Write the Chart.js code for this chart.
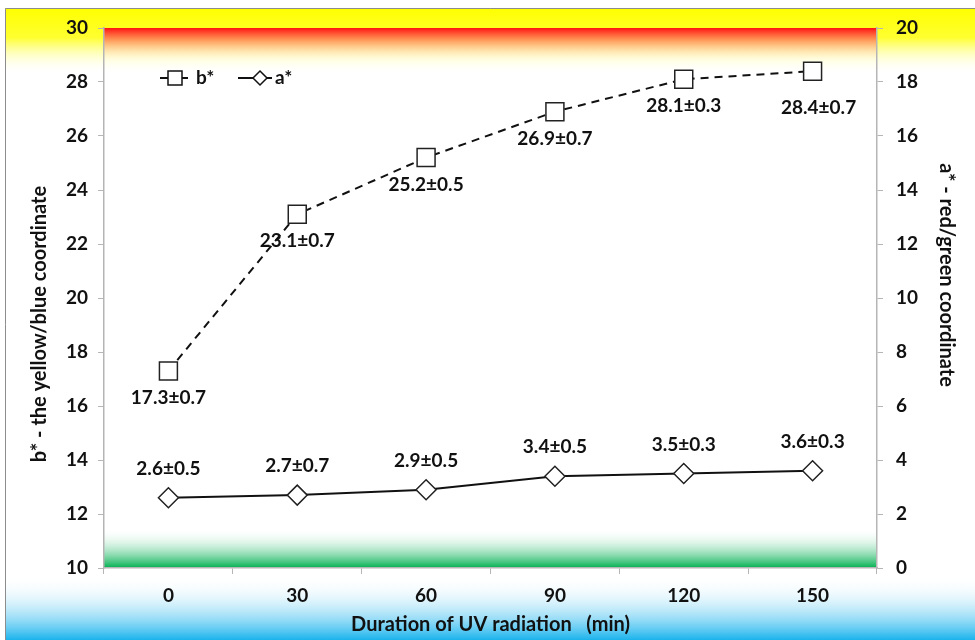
<!DOCTYPE html>
<html>
<head>
<meta charset="utf-8">
<script src="https://cdn.jsdelivr.net/npm/chart.js@4.4.1/dist/chart.umd.min.js"></script>
<style>
  html, body { margin: 0; padding: 0; background: #fff; }
  #wrap { width: 975px; height: 640px; }
</style>
</head>
<body>
<div id="wrap"><canvas id="uvchart"></canvas></div>
<script>
const durations = ["0", "30", "60", "90", "120", "150"];
const bValues = [17.3, 23.1, 25.2, 26.9, 28.1, 28.4];
const bErrors = [0.7, 0.7, 0.5, 0.7, 0.3, 0.7];
const aValues = [2.6, 2.7, 2.9, 3.4, 3.5, 3.6];
const aErrors = [0.5, 0.7, 0.5, 0.5, 0.3, 0.3];

const FONT = "Lato";
const axisGray = "#b5b5b5";
const leftTitle = "b* - the yellow/blue coordinate";
const rightTitle = "a* - red/green coordinate";

// yellow/blue page background + red/green bands in the plot
const backdrop = {
  id: "backdrop",
  beforeDraw(chart) {
    const ctx = chart.ctx;
    const W = chart.width, H = chart.height;
    const ca = chart.chartArea;
    ctx.save();
    ctx.fillStyle = "#fff";
    ctx.fillRect(0, 0, W, H);

    let g = ctx.createLinearGradient(0, 8, 0, 74);
    g.addColorStop(0, "#ffff00");
    g.addColorStop(0.45, "#ffff30");
    g.addColorStop(1, "rgba(255,255,255,0)");
    ctx.fillStyle = g;
    ctx.fillRect(5, 8, W - 5, 66);

    g = ctx.createLinearGradient(0, 576, 0, H);
    g.addColorStop(0, "rgba(255,255,255,0)");
    g.addColorStop(1, "#1ab3ec");
    ctx.fillStyle = g;
    ctx.fillRect(5, 576, W - 5, H - 576);

    ctx.strokeStyle = "#8c8c8c";
    ctx.lineWidth = 1;
    ctx.beginPath();
    ctx.moveTo(5.5, H);
    ctx.lineTo(5.5, 8.5);
    ctx.lineTo(W, 8.5);
    ctx.stroke();

    g = ctx.createLinearGradient(0, ca.top, 0, ca.top + 35);
    g.addColorStop(0, "#ff1010");
    g.addColorStop(1, "rgba(255,255,255,0)");
    ctx.fillStyle = g;
    ctx.fillRect(ca.left, ca.top, ca.right - ca.left, 35);

    g = ctx.createLinearGradient(0, ca.bottom - 40, 0, ca.bottom);
    g.addColorStop(0, "rgba(255,255,255,0)");
    g.addColorStop(1, "#00b050");
    ctx.fillStyle = g;
    ctx.fillRect(ca.left, ca.bottom - 40, ca.right - ca.left, 40);

    // vertical axis titles (off-centre, as in the original)
    ctx.fillStyle = "#111";
    ctx.font = "bold 20px " + FONT;
    ctx.textAlign = "center";
    ctx.textBaseline = "middle";
    ctx.translate(40, 324);
    ctx.rotate(-Math.PI / 2);
    ctx.fillText(leftTitle, 0, 0);
    ctx.setTransform(1, 0, 0, 1, 0, 0);
    ctx.translate(946, 275);
    ctx.rotate(Math.PI / 2);
    ctx.fillText(rightTitle, 0, 0);
    ctx.restore();
  }
};

// value±error labels and the in-plot legend
const annotate = {
  id: "annotate",
  afterDatasetsDraw(chart) {
    const ctx = chart.ctx;
    ctx.save();
    ctx.font = "bold 19px " + FONT;
    ctx.fillStyle = "#111";
    ctx.textAlign = "center";
    ctx.textBaseline = "middle";
    const bPts = chart.getDatasetMeta(0).data;
    bPts.forEach((p, i) => {
      const last = i === bPts.length - 1;
      ctx.fillText(bValues[i].toFixed(1) + "±" + bErrors[i].toFixed(1),
        p.x + (last ? 6 : 0), p.y + (last ? 37 : 27));
    });
    chart.getDatasetMeta(1).data.forEach((p, i) => {
      ctx.fillText(aValues[i].toFixed(1) + "±" + aErrors[i].toFixed(1), p.x, p.y - 29);
    });

    // legend
    const y = 78;
    ctx.strokeStyle = "#111";
    ctx.lineWidth = 2;
    ctx.beginPath();
    ctx.moveTo(160, y); ctx.lineTo(168, y);
    ctx.moveTo(182, y); ctx.lineTo(188, y);
    ctx.moveTo(238, y); ctx.lineTo(254, y);
    ctx.moveTo(266, y); ctx.lineTo(272, y);
    ctx.stroke();
    ctx.lineWidth = 1.5;
    ctx.fillStyle = "#fff";
    ctx.fillRect(168, y - 7, 14, 14);
    ctx.strokeRect(168, y - 7, 14, 14);
    ctx.beginPath();
    ctx.moveTo(260, y - 7); ctx.lineTo(267, y); ctx.lineTo(260, y + 7); ctx.lineTo(253, y); ctx.closePath();
    ctx.fill(); ctx.stroke();
    ctx.fillStyle = "#111";
    ctx.font = "bold 19px " + FONT;
    ctx.textAlign = "left";
    ctx.fillText("b*", 196, y);
    ctx.fillText("a*", 275, y);
    ctx.restore();
  }
};

new Chart(document.getElementById("uvchart").getContext("2d"), {
  type: "line",
  data: {
    labels: durations,
    datasets: [
      {
        label: "b*",
        data: bValues,
        yAxisID: "y",
        borderColor: "#111",
        borderWidth: 2,
        borderDash: [8, 6],
        pointStyle: "rect",
        pointRadius: 12.7,
        pointHoverRadius: 12.7,
        pointBackgroundColor: "#fff",
        pointBorderColor: "#222",
        pointBorderWidth: 1.5,
        tension: 0
      },
      {
        label: "a*",
        data: aValues,
        yAxisID: "y1",
        borderColor: "#111",
        borderWidth: 2,
        pointStyle: "rectRot",
        pointRadius: 10,
        pointHoverRadius: 10,
        pointBackgroundColor: "#fff",
        pointBorderColor: "#222",
        pointBorderWidth: 1.5,
        tension: 0
      }
    ]
  },
  options: {
    responsive: true,
    maintainAspectRatio: false,
    animation: false,
    events: [],
    layout: { padding: { top: 28, left: 0, right: 0, bottom: 0 } },
    plugins: { legend: { display: false }, tooltip: { enabled: false } },
    scales: {
      x: {
        offset: true,
        grid: { offset: true, drawOnChartArea: false, color: axisGray, tickLength: 6 },
        border: { color: axisGray, width: 1.5 },
        ticks: { color: "#111", font: { family: FONT, size: 19, weight: "bold" }, padding: 10 },
        title: {
          display: true,
          text: "Duration of UV radiation   (min)",
          color: "#111",
          font: { family: FONT, size: 20, weight: "bold" },
          padding: { top: 0, bottom: 3 }
        },
        afterFit(scale) { scale.height = 72; }
      },
      y: {
        position: "left",
        min: 10, max: 30,
        grid: { drawOnChartArea: false, color: axisGray, tickLength: 6 },
        border: { color: axisGray, width: 1.5 },
        ticks: { stepSize: 2, color: "#111", font: { family: FONT, size: 19, weight: "bold" }, padding: 10 },
        afterFit(scale) { scale.width = 104; }
      },
      y1: {
        position: "right",
        min: 0, max: 20,
        grid: { drawOnChartArea: false, color: axisGray, tickLength: 6 },
        border: { color: axisGray, width: 1.5 },
        ticks: { stepSize: 2, color: "#111", font: { family: FONT, size: 19, weight: "bold" }, padding: 13 },
        afterFit(scale) { scale.width = 98; }
      }
    }
  },
  plugins: [backdrop, annotate]
});
</script>
</body>
</html>
